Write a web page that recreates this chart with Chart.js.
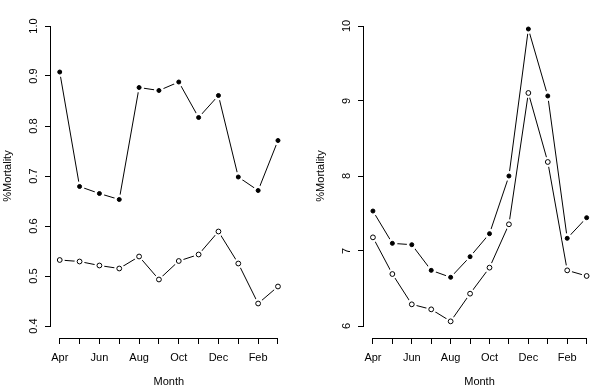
<!DOCTYPE html>
<html>
<head>
<meta charset="utf-8">
<script src="https://cdn.jsdelivr.net/npm/chart.js@4/dist/chart.umd.min.js"></script>
<style>
  body { margin: 0; background: #fff; }
  #wrap { position: relative; width: 600px; height: 391px; }
  canvas { position: absolute; top: 0; }
  #left { left: 0; }
  #right { left: 300px; }
</style>
</head>
<body>
<div id="wrap">
  <canvas id="left" width="300" height="391"></canvas>
  <canvas id="right" width="300" height="391"></canvas>
</div>
<script>
var months = ['Apr', 'May', 'Jun', 'Jul', 'Aug', 'Sep', 'Oct', 'Nov', 'Dec', 'Jan', 'Feb', 'Mar'];

// left panel
var leftFilled = [0.908, 0.679, 0.665, 0.653, 0.877, 0.871, 0.888, 0.817, 0.861, 0.698, 0.671, 0.771];
var leftOpen   = [0.532, 0.529, 0.521, 0.515, 0.539, 0.493, 0.530, 0.543, 0.589, 0.525, 0.445, 0.479];
var leftTicks  = [0.4, 0.5, 0.6, 0.7, 0.8, 0.9, 1.0];

// right panel
var rightFilled = [7.533, 7.102, 7.084, 6.742, 6.649, 6.924, 7.231, 8.000, 9.960, 9.067, 7.169, 7.444];
var rightOpen   = [7.182, 6.693, 6.289, 6.222, 6.062, 6.431, 6.778, 7.356, 9.107, 8.187, 6.742, 6.667];
var rightTicks  = [6, 7, 8, 9, 10];

var FONT = 'Liberation Sans, Arial, Helvetica, sans-serif';

function pts(arr) {
	return arr.map(function(v, i) { return {x: i + 1, y: v}; });
}

// one series drawn like R type="b": line, white gap round each point, then the marker
function series(data, filled) {
	return [
		{ data: pts(data), showLine: true, borderColor: '#000', borderWidth: 1, pointRadius: 0, order: 3 },
		{ data: pts(data), showLine: false, pointRadius: 5, pointBackgroundColor: '#fff', pointBorderWidth: 0, order: 2 },
		{ data: pts(data), showLine: false, pointRadius: filled ? 2 : 2.4, pointBorderWidth: 1,
		  pointBorderColor: '#000', pointBackgroundColor: filled ? '#000' : '#fff', order: 1 }
	];
}

// R style axis lines, rotated y labels and y title
var rAxes = {
	id: 'rAxes',
	afterDraw: function(chart) {
		var ctx = chart.ctx;
		var xs = chart.scales.x, ys = chart.scales.y;
		var ticks = chart.options.plugins.rAxes.ticks;
		var digits = chart.options.plugins.rAxes.digits;
		var left = chart.chartArea.left, bottom = chart.chartArea.bottom;
		ctx.save();
		ctx.strokeStyle = '#000';
		ctx.lineWidth = 1;
		ctx.beginPath();
		ctx.moveTo(Math.round(left) - 0.5, ys.getPixelForValue(ticks[0]));
		ctx.lineTo(Math.round(left) - 0.5, ys.getPixelForValue(ticks[ticks.length - 1]));
		ctx.moveTo(xs.getPixelForValue(1), Math.round(bottom) + 0.5);
		ctx.lineTo(xs.getPixelForValue(months.length), Math.round(bottom) + 0.5);
		ctx.stroke();

		ctx.fillStyle = '#000';
		ctx.font = '11px ' + FONT;
		ctx.textAlign = 'center';
		ctx.textBaseline = 'alphabetic';
		ticks.forEach(function(t) {
			ctx.save();
			ctx.translate(left - 14, ys.getPixelForValue(t));
			ctx.rotate(-Math.PI / 2);
			ctx.fillText(t.toFixed(digits), 0, 0);
			ctx.restore();
		});
		ctx.save();
		ctx.translate(left - 40, (chart.chartArea.top + bottom) / 2);
		ctx.rotate(-Math.PI / 2);
		ctx.fillText('%Mortality', 0, 0);
		ctx.restore();
		ctx.restore();
	}
};

function makeChart(id, filled, open, yTicks, digits, yMin, yMax, padLeft, padRight, xMin, xMax) {
	var ctx = document.getElementById(id);
	return new Chart(ctx, {
		type: 'line',
		data: { datasets: series(filled, true).concat(series(open, false)) },
		options: {
			responsive: false,
			animation: false,
			events: [],
			layout: { padding: { left: padLeft, right: padRight, top: 14, bottom: 0 } },
			plugins: {
				legend: { display: false },
				tooltip: { enabled: false },
				rAxes: { ticks: yTicks, digits: digits }
			},
			scales: {
				x: {
					type: 'linear',
					min: xMin,
					max: xMax,
					afterBuildTicks: function(scale) {
						scale.ticks = months.map(function(m, i) { return {value: i + 1}; });
					},
					border: { display: false },
					grid: { drawOnChartArea: false, drawTicks: true, tickLength: 6, color: '#000', lineWidth: 1 },
					ticks: {
						autoSkip: false,
						maxRotation: 0,
						minRotation: 0,
						padding: 7,
						color: '#000',
						font: { family: FONT, size: 11 },
						callback: function(v) {
							var i = Math.round(v) - 1;
							return i % 2 === 0 ? months[i] : '';
						}
					},
					title: {
						display: true,
						text: 'Month',
						color: '#000',
						font: { family: FONT, size: 11 },
						padding: { top: 4.2, bottom: 2.4 }
					}
				},
				y: {
					type: 'linear',
					min: yMin,
					max: yMax,
					afterBuildTicks: function(scale) {
						scale.ticks = yTicks.map(function(v) { return {value: v}; });
					},
					border: { display: false },
					grid: { drawOnChartArea: false, drawTicks: true, tickLength: 6, color: '#000', lineWidth: 1 },
					ticks: { display: false }
				}
			}
		},
		plugins: [rAxes]
	});
}

makeChart('left', leftFilled, leftOpen, leftTicks, 1, 0.376, 1.024, 45, 13.3, 0.56, 12.44);
makeChart('right', rightFilled, rightOpen, rightTicks, 0, 5.84, 10.16, 58, 0, 0.54, 12.43);
</script>
</body>
</html>
